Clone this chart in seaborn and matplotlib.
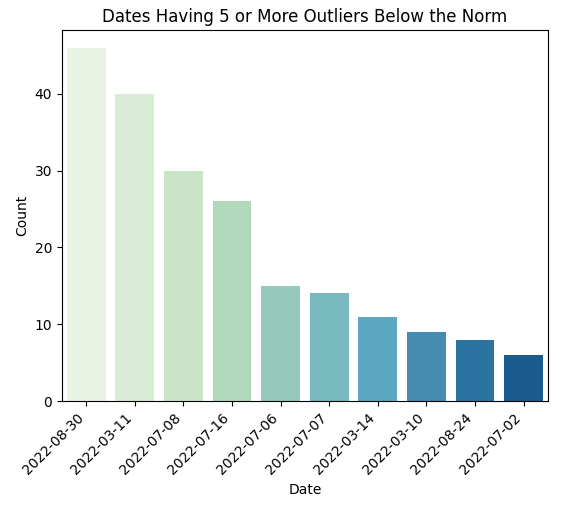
import matplotlib
matplotlib.use("Agg")
import matplotlib.pyplot as plt
import seaborn as sns
import pandas as pd

dates = ["2022-08-30", "2022-03-11", "2022-07-08", "2022-07-16", "2022-07-06",
         "2022-07-07", "2022-03-14", "2022-03-10", "2022-08-24", "2022-07-02"]
counts = [46, 40, 30, 26, 15, 14, 11, 9, 8, 6]

df = pd.DataFrame({"Date": dates, "Count": counts})
fig, ax = plt.subplots(figsize=(5.62, 5.07), dpi=100)
fig.subplots_adjust(left=0.110, right=0.975, top=0.941, bottom=0.209)
sns.barplot(data=df, x="Date", y="Count", hue="Date", palette="GnBu", legend=False, ax=ax)
ax.set_title("Dates Having 5 or More Outliers Below the Norm")
plt.setp(ax.get_xticklabels(), rotation=45, ha="right")
fig.savefig("out.png", dpi=100)
